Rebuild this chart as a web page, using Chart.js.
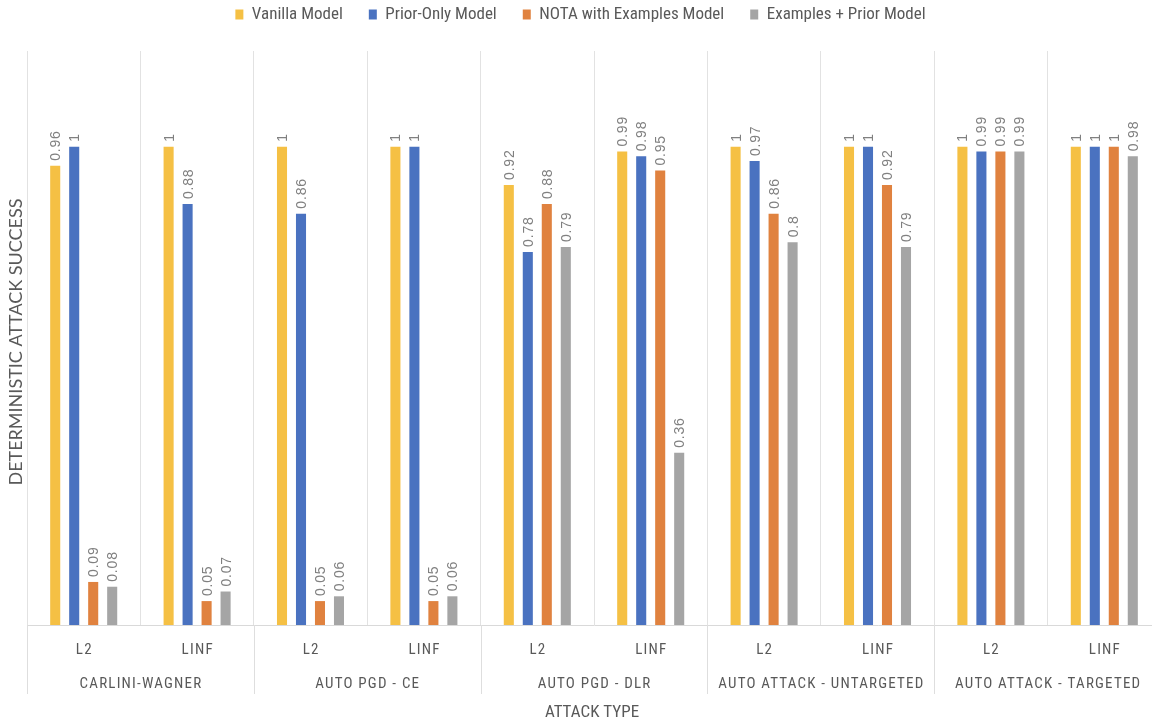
<!DOCTYPE html>
<html>
<head>
<meta charset="utf-8">
<script src="https://cdn.jsdelivr.net/npm/chart.js@4.4.1/dist/chart.umd.min.js"></script>
<style>
  html, body { margin: 0; padding: 0; background: #ffffff; overflow: hidden; }
  #wrap { position: relative; width: 1165px; height: 723px; }
</style>
</head>
<body>
<div id="wrap"><canvas id="chart"></canvas></div>
<script>
// Attack settings (inner axis level) and attack families (outer axis level)
const categories = ['L2', 'LINF', 'L2', 'LINF', 'L2', 'LINF', 'L2', 'LINF', 'L2', 'LINF'];
const groups = ['CARLINI-WAGNER', 'AUTO PGD - CE', 'AUTO PGD - DLR', 'AUTO ATTACK - UNTARGETED', 'AUTO ATTACK - TARGETED'];

const seriesNames = ['Vanilla Model', 'Prior-Only Model', 'NOTA with Examples Model', 'Examples + Prior Model'];
const vanilla       = [0.96, 1,    1,    1,    0.92, 0.99, 1,    1,    1,    1];
const priorOnly     = [1,    0.88, 0.86, 1,    0.78, 0.98, 0.97, 1,    0.99, 1];
const notaExamples  = [0.09, 0.05, 0.05, 0.05, 0.88, 0.95, 0.86, 0.92, 0.99, 1];
const examplesPrior = [0.08, 0.07, 0.06, 0.06, 0.79, 0.36, 0.8,  0.79, 0.99, 0.98];

const yAxisTitle = 'DETERMINISTIC ATTACK SUCCESS';
const xAxisTitle = 'ATTACK TYPE';

const colors = ['#F5C044', '#4A72C0', '#E0823F', '#A5A5A5'];
const narrowFont = '"Liberation Sans Narrow", "Roboto Condensed", "Liberation Sans", sans-serif';
const textGray = '#595959';

// Keep the legend band a fixed height so the plot starts at the same place
const legendBand = {
  id: 'legendBand',
  beforeLayout(chart) {
    const lg = chart.legend;
    if (!lg || lg._bandPatched) return;
    const fit = lg.fit;
    lg.fit = function () {
      fit.call(this);
      this.height = 71;
    };
    lg._bandPatched = true;
  }
};

// Rotated value labels above each bar
const valueLabels = {
  id: 'valueLabels',
  afterDatasetsDraw(chart) {
    const ctx = chart.ctx;
    ctx.save();
    ctx.font = '14px "Liberation Sans", Arial, sans-serif';
    ctx.fillStyle = '#808080';
    ctx.letterSpacing = '0.8px';
    ctx.textAlign = 'left';
    ctx.textBaseline = 'alphabetic';
    chart.data.datasets.forEach((ds, i) => {
      const meta = chart.getDatasetMeta(i);
      meta.data.forEach((bar, j) => {
        ctx.save();
        ctx.translate(bar.x, bar.y - 5);
        ctx.rotate(-Math.PI / 2);
        ctx.fillText(String(ds.data[j]), 0, 5);
        ctx.restore();
      });
    });
    ctx.restore();
  }
};

// Two-level category axis, separators and axis titles
const axisText = {
  id: 'axisText',
  afterDraw(chart) {
    const { ctx, chartArea } = chart;
    const x = chart.scales.x;
    const n = categories.length;
    const edge = (i) => {
      if (i <= 0) return x.left;
      if (i >= n) return x.right;
      return (x.getPixelForValue(i - 1) + x.getPixelForValue(i)) / 2;
    };
    ctx.save();
    ctx.strokeStyle = '#dedede';
    ctx.lineWidth = 1;
    for (let g = 0; g <= groups.length; g++) {
      const px = Math.round(edge(g * 2)) + 0.5;
      ctx.beginPath();
      ctx.moveTo(px, chartArea.bottom);
      ctx.lineTo(px, chartArea.bottom + 69);
      ctx.stroke();
    }

    ctx.fillStyle = textGray;
    ctx.textAlign = 'center';
    ctx.textBaseline = 'middle';
    ctx.font = '15px ' + narrowFont;
    ctx.letterSpacing = '1.2px';
    categories.forEach((c, i) => {
      ctx.fillText(c, x.getPixelForValue(i) + 0.6, chartArea.bottom + 25);
    });
    groups.forEach((g, k) => {
      const cx = (edge(k * 2) + edge(k * 2 + 2)) / 2;
      ctx.fillText(g, cx + 0.6, chartArea.bottom + 59);
    });

    ctx.letterSpacing = '0px';
    ctx.font = '17px ' + narrowFont;
    ctx.fillText(xAxisTitle, (chartArea.left + chartArea.right) / 2 - 2, chartArea.bottom + 88);

    ctx.font = '18px Lato, "Liberation Sans", sans-serif';
    ctx.translate(16.5, (chartArea.top + chartArea.bottom) / 2 + 4);
    ctx.rotate(-Math.PI / 2);
    ctx.fillText(yAxisTitle, 0, 0);
    ctx.restore();
  }
};

const datasets = [vanilla, priorOnly, notaExamples, examplesPrior].map((values, i) => ({
  label: seriesNames[i],
  data: values,
  backgroundColor: colors[i],
  borderWidth: 0
}));

new Chart(document.getElementById('chart'), {
  type: 'bar',
  data: { labels: categories, datasets },
  options: {
    responsive: true,
    maintainAspectRatio: false,
    animation: false,
    layout: { padding: { top: -20, right: 4, bottom: 98, left: 0 } },
    datasets: { bar: { categoryPercentage: 0.67, barPercentage: 0.53 } },
    plugins: {
      legend: {
        position: 'top',
        labels: {
          boxWidth: 8,
          boxHeight: 10,
          padding: 26,
          color: textGray,
          font: { family: narrowFont, size: 17 }
        }
      },
      tooltip: { enabled: false }
    },
    scales: {
      x: {
        grid: { color: '#e2e2e2', lineWidth: 1, drawTicks: false, offset: true },
        border: { color: '#d9d9d9' },
        ticks: { display: false },
        afterFit(s) { s.height = 0; }
      },
      y: {
        min: 0,
        max: 1.2,
        ticks: { display: false },
        grid: { display: false },
        border: { display: false },
        afterFit(s) { s.width = 27; }
      }
    }
  },
  plugins: [legendBand, valueLabels, axisText]
});
</script>
</body>
</html>
